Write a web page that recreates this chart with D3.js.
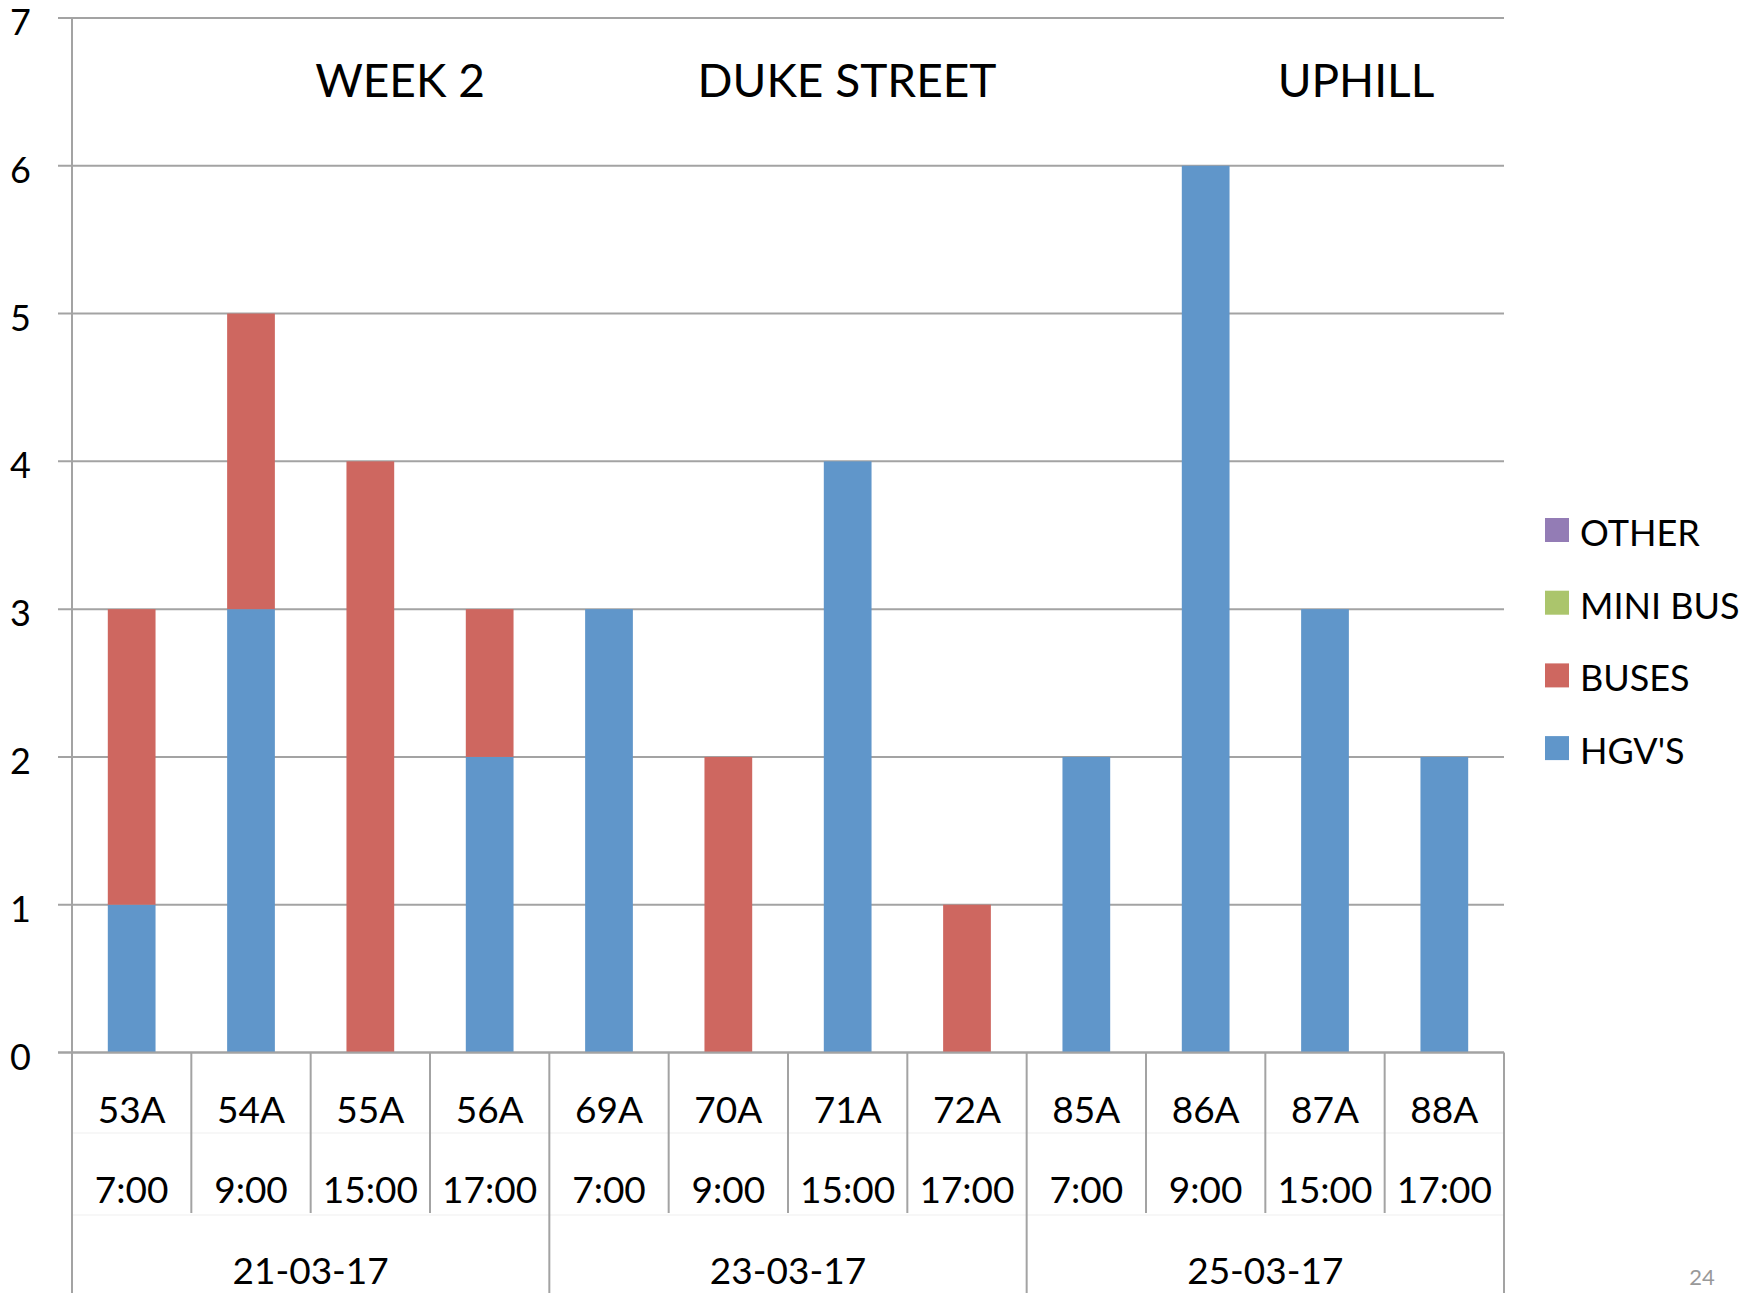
<!DOCTYPE html>
<html>
<head>
<meta charset="utf-8">
<script src="https://cdn.jsdelivr.net/npm/d3@7"></script>
<style>
  html, body { margin: 0; padding: 0; background: #fff; }
  svg { display: block; font-family: Lato, "Open Sans", sans-serif; }
</style>
</head>
<body>
<svg id="chart" width="1764" height="1293"></svg>
<script>
// ---- data ----
const sites = ["53A","54A","55A","56A","69A","70A","71A","72A","85A","86A","87A","88A"];
const times = ["7:00","9:00","15:00","17:00","7:00","9:00","15:00","17:00","7:00","9:00","15:00","17:00"];
const dates = ["21-03-17","23-03-17","25-03-17"];
const seriesNames = ["HGV'S","BUSES","MINI BUS","OTHER"];
const hgv     = [1,3,0,2,3,0,4,0,2,6,3,2];
const buses   = [2,2,4,1,0,2,0,1,0,0,0,0];
const miniBus = [0,0,0,0,0,0,0,0,0,0,0,0];
const other   = [0,0,0,0,0,0,0,0,0,0,0,0];
const yTicks  = [0,1,2,3,4,5,6,7];
const headings = ["WEEK 2","DUKE STREET","UPHILL"];
const colors = ["#6096CA","#CE6760","#ABC56C","#937CB5"];

(function () {
// ---- layout ----
const svg = d3.select("#chart");
const plotL = 72, plotR = 1504, plotT = 18, zeroY = 1052.5;
const x = d3.scaleBand().domain(d3.range(sites.length)).range([plotL, plotR]).paddingInner(0.6).paddingOuter(0.3);
const y = d3.scaleLinear().domain([0, 7]).range([zeroY, plotT]);
const step = x.step();
const gridColor = "#a3a3a3";

// gridlines + ticks
svg.append("g").selectAll("line").data(yTicks).join("line")
  .attr("x1", plotL - 14).attr("x2", plotR)
  .attr("y1", d => y(d)).attr("y2", d => y(d))
  .attr("stroke", gridColor).attr("stroke-width", 2);

// y labels
svg.append("g").selectAll("text").data(yTicks).join("text")
  .attr("x", 31).attr("y", d => y(d) + 17)
  .attr("text-anchor", "end").attr("font-size", 36).attr("fill", "#000")
  .text(d => d);

// stacked bars
const rows = sites.map((s, i) => ({i, "HGV'S": hgv[i], "BUSES": buses[i], "MINI BUS": miniBus[i], "OTHER": other[i]}));
const stack = d3.stack().keys(seriesNames)(rows);
svg.append("g").selectAll("g").data(stack).join("g")
  .attr("fill", (d, k) => colors[k])
  .selectAll("rect").data(d => d.filter(v => v[1] > v[0])).join("rect")
  .attr("x", d => x(d.data.i)).attr("width", x.bandwidth())
  .attr("y", d => y(d[1])).attr("height", d => y(d[0]) - y(d[1]));

// redraw zero line on top
svg.append("line").attr("x1", plotL - 14).attr("x2", plotR).attr("y1", zeroY).attr("y2", zeroY)
  .attr("stroke", gridColor).attr("stroke-width", 2);

// faint row separators of multi-level axis
[1133, 1215].forEach(yy => {
  svg.append("line").attr("x1", plotL).attr("x2", plotR).attr("y1", yy).attr("y2", yy)
    .attr("stroke", "#f4f4f4").attr("stroke-width", 1.5);
});

// left axis line
svg.append("line").attr("x1", plotL).attr("x2", plotL).attr("y1", plotT).attr("y2", 1293)
  .attr("stroke", gridColor).attr("stroke-width", 2);

// category dividers
const bounds = d3.range(1, sites.length + 1).map(k => plotL + k * step);
svg.append("g").selectAll("line").data(bounds).join("line")
  .attr("x1", d => d).attr("x2", d => d)
  .attr("y1", zeroY)
  .attr("y2", (d, k) => ((k + 1) % 4 === 0) ? 1293 : 1213)
  .attr("stroke", gridColor).attr("stroke-width", 2);

// category labels
const cx = i => x(i) + x.bandwidth() / 2;
svg.append("g").selectAll("text").data(sites).join("text")
  .attr("x", (d, i) => cx(i)).attr("y", 1123).attr("text-anchor", "middle")
  .attr("font-size", 37).text(d => d);
svg.append("g").selectAll("text").data(times).join("text")
  .attr("x", (d, i) => cx(i)).attr("y", 1203).attr("text-anchor", "middle")
  .attr("font-size", 37).text(d => d);
svg.append("g").selectAll("text").data(dates).join("text")
  .attr("x", (d, g) => plotL + (g * 4 + 2) * step).attr("y", 1284).attr("text-anchor", "middle")
  .attr("font-size", 37).text(d => d);

// headings inside plot
const headX = [400, 847, 1356];
svg.append("g").selectAll("text").data(headings).join("text")
  .attr("x", (d, k) => headX[k]).attr("y", 97).attr("text-anchor", "middle")
  .attr("font-size", 46).text(d => d);

// legend (reverse order)
const legendOrder = seriesNames.map((n, k) => ({n, c: colors[k]})).reverse();
const lg = svg.append("g");
legendOrder.forEach((d, k) => {
  const ty = 518 + k * 72.7;
  lg.append("rect").attr("x", 1545).attr("y", ty).attr("width", 24).attr("height", 24).attr("fill", d.c);
  lg.append("text").attr("x", 1580).attr("y", ty + 28).attr("font-size", 36).text(d.n);
});

// page number
svg.append("text").attr("x", 1702).attr("y", 1285).attr("text-anchor", "middle")
  .attr("font-size", 22).attr("fill", "#999").text("24");
})();
</script>
</body>
</html>
